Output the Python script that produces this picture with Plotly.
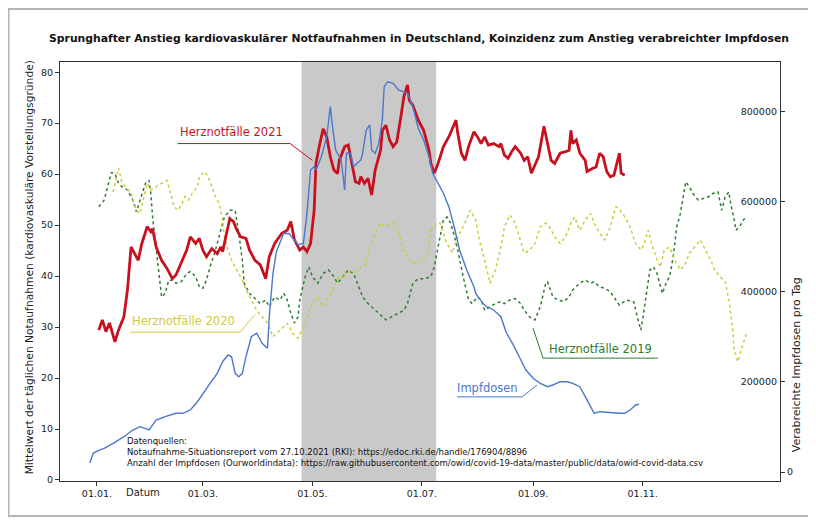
import pandas as pd
import plotly.graph_objects as go

# day offsets from 01.01.2021 and values
herz_2021 = [(1, 29.4), (3, 31.4), (5, 29.1), (7, 30.8), (10, 27.1), (12, 29.4), (15, 32.0), (17, 37.3),
             (19, 45.7), (21, 44.5), (23, 43.1), (25, 46.4), (28, 49.7), (30, 48.7), (31, 49.3), (33, 45.7),
             (36, 43.1), (39, 41.5), (42, 39.5), (44, 40.2), (47, 42.5), (50, 45.1), (52, 47.7), (55, 46.4),
             (57, 47.4), (59, 45.1), (61, 43.8), (64, 45.4), (67, 44.4), (69, 45.7), (70, 44.8), (72, 48.4),
             (74, 51.3), (76, 50.7), (78, 49.0), (80, 47.7), (83, 47.4), (85, 45.1), (88, 43.1), (91, 42.2),
             (94, 39.5), (96, 43.8), (99, 46.4), (103, 48.4), (106, 49.0), (108, 50.7), (110, 47.1), (113, 45.1),
             (115, 45.7), (117, 44.8), (119, 46.4), (121, 52.9), (122, 62.1), (124, 65.7), (126, 68.9), (128, 67.3),
             (130, 63.4), (132, 60.8), (134, 60.1), (135, 62.7), (138, 65.4), (140, 65.7), (142, 62.1), (144, 58.5),
             (146, 58.2), (147, 59.5), (149, 58.2), (151, 59.2), (153, 55.9), (155, 60.8), (158, 64.7), (159, 68.6),
             (161, 69.6), (163, 66.7), (165, 65.4), (167, 66.3), (169, 70.6), (171, 75.2), (173, 77.5), (174, 74.5),
             (176, 73.5), (179, 70.6), (182, 68.6), (185, 64.7), (186, 62.1), (188, 60.2), (190, 62.1), (193, 65.4),
             (196, 67.3), (199, 70.0), (200, 70.6), (201, 68.0), (203, 64.1), (205, 62.7), (207, 65.4), (210, 68.3),
             (212, 67.3), (214, 66.0), (216, 67.3), (218, 65.7), (221, 66.0), (224, 65.4), (225, 66.0), (227, 63.7),
             (229, 63.1), (231, 64.4), (233, 65.4), (236, 64.1), (238, 62.7), (240, 63.4), (242, 60.2), (244, 61.8),
             (246, 63.4), (249, 69.4), (251, 66.0), (253, 62.7), (255, 62.1), (258, 64.1), (261, 64.4), (263, 64.7),
             (264, 68.6), (265, 66.0), (267, 66.7), (269, 64.1), (272, 62.7), (273, 60.5), (276, 61.1), (278, 61.4),
             (280, 64.1), (282, 63.4), (284, 60.5), (286, 59.5), (288, 59.8), (290, 62.7), (291, 64.1), (292, 60.2),
             (294, 59.8)]

herz_2020 = [(9, 56.5), (12, 61.2), (14, 58.2), (16, 57.5), (19, 56.2), (22, 52.9), (24, 52.3), (26, 55.6),
             (28, 58.2), (30, 56.9), (33, 57.5), (36, 58.2), (39, 58.8), (41, 56.2), (43, 53.6), (45, 52.9),
             (47, 53.9), (49, 55.6), (51, 54.9), (53, 56.2), (56, 57.5), (57, 59.5), (60, 60.5), (62, 59.5),
             (64, 57.5), (66, 55.6), (68, 54.3), (70, 51.0), (71, 47.7), (73, 45.1), (75, 43.1), (78, 41.2),
             (81, 39.2), (83, 37.3), (86, 35.3), (89, 33.3), (92, 32.0), (95, 30.8), (98, 28.1), (102, 29.4),
             (106, 30.7), (109, 28.8), (112, 27.8), (116, 30.7), (120, 34.6), (123, 35.9), (126, 34.0), (129, 35.9),
             (133, 38.6), (135, 39.9), (138, 39.9), (141, 41.2), (144, 40.5), (147, 41.8), (149, 41.8), (152, 45.7),
             (155, 48.4), (158, 50.4), (160, 49.7), (163, 50.0), (166, 50.4), (168, 49.0), (170, 45.7), (173, 43.8),
             (175, 42.5), (178, 42.5), (181, 43.1), (184, 43.8), (186, 49.0), (188, 49.7), (191, 50.4), (195, 46.4),
             (198, 44.5), (201, 47.7), (205, 50.4), (208, 52.9), (211, 51.0), (213, 47.1), (216, 43.1), (219, 38.6),
             (222, 41.2), (225, 45.7), (227, 49.7), (230, 52.0), (233, 50.4), (236, 47.1), (238, 44.5), (241, 45.1),
             (244, 46.4), (247, 49.7), (250, 50.4), (252, 49.7), (255, 47.7), (258, 46.4), (261, 47.7), (264, 50.4),
             (266, 51.6), (269, 49.0), (272, 51.0), (275, 52.3), (277, 50.4), (280, 48.4), (283, 47.1), (286, 49.7),
             (289, 53.6), (291, 53.2), (294, 51.6), (297, 49.7), (300, 46.4), (303, 45.1), (305, 46.4), (307, 49.0),
             (309, 46.4), (312, 43.1), (314, 41.8), (316, 45.1), (319, 45.7), (322, 43.1), (325, 41.2), (328, 42.5),
             (330, 44.5), (333, 45.7), (336, 47.1), (339, 45.1), (342, 43.1), (344, 41.2), (347, 39.9), (350, 38.9),
             (352, 35.3), (354, 30.1), (355, 25.5), (357, 23.2), (359, 25.5), (361, 28.1), (362, 29.1)]

herz_2019 = [(1, 53.6), (4, 54.9), (8, 60.3), (10, 60.1), (12, 58.2), (14, 57.5), (17, 56.9), (20, 54.9),
             (22, 52.6), (24, 54.9), (27, 58.2), (29, 58.8), (30, 56.2), (31, 51.6), (33, 45.1), (35, 38.6),
             (36, 35.9), (38, 36.6), (40, 39.2), (42, 39.2), (44, 38.6), (47, 38.9), (50, 40.5), (52, 40.9),
             (55, 39.9), (57, 37.9), (59, 37.6), (61, 39.2), (63, 41.8), (66, 45.1), (69, 49.0), (71, 51.6),
             (74, 52.9), (77, 52.9), (79, 48.4), (81, 43.1), (82, 38.6), (85, 36.6), (88, 35.6), (91, 34.6),
             (94, 35.3), (96, 34.0), (99, 35.9), (102, 35.3), (104, 36.6), (106, 35.3), (108, 32.7), (110, 30.8),
             (112, 32.0), (113, 35.3), (116, 39.9), (118, 41.8), (120, 39.9), (123, 38.6), (126, 40.5), (129, 41.2),
             (132, 39.9), (134, 38.6), (137, 39.9), (140, 41.2), (143, 40.5), (146, 37.9), (148, 35.9), (151, 34.6),
             (155, 33.3), (159, 32.0), (161, 31.4), (164, 32.0), (168, 32.7), (171, 33.3), (173, 34.6), (176, 38.6),
             (179, 39.5), (183, 39.5), (186, 39.9), (188, 41.8), (190, 45.7), (193, 51.0), (195, 51.6), (197, 50.4),
             (199, 48.0), (201, 45.1), (204, 39.9), (207, 35.3), (209, 34.6), (212, 35.9), (214, 35.3), (216, 33.3),
             (219, 34.0), (222, 34.6), (225, 35.0), (227, 34.6), (230, 35.3), (233, 35.6), (236, 34.6), (238, 33.3),
             (241, 32.0), (244, 31.4), (247, 34.0), (250, 38.6), (251, 38.9), (254, 35.9), (257, 35.3), (260, 35.0),
             (263, 35.9), (265, 37.3), (269, 38.6), (272, 39.2), (275, 38.6), (277, 38.9), (280, 37.9), (283, 37.6),
             (286, 36.9), (289, 35.3), (291, 34.3), (295, 35.3), (299, 35.0), (301, 32.0), (303, 29.4), (304, 31.4),
             (306, 36.6), (308, 41.2), (310, 41.8), (312, 40.5), (314, 37.9), (315, 36.6), (317, 38.6), (319, 39.9),
             (321, 43.8), (323, 49.7), (325, 52.3), (327, 56.2), (328, 58.5), (330, 57.5), (332, 56.2), (335, 54.9),
             (338, 55.2), (341, 55.6), (343, 56.2), (346, 56.5), (348, 52.9), (350, 55.6), (352, 56.5), (353, 54.3),
             (355, 51.0), (356, 49.0), (358, 49.7), (360, 51.0), (362, 51.6)]

impfdosen = [(-4, 20000), (-2, 42000), (1, 48000), (4, 52600), (9, 63700), (15, 78400), (20, 93300),
             (24, 100700), (29, 93300), (33, 115500), (38, 122900), (44, 130400), (48, 130400), (52, 137800),
             (56, 156200), (59, 174900), (63, 197100), (67, 219300), (70, 245100), (73, 260000), (75, 256000),
             (77, 219300), (79, 211800), (81, 219300), (83, 256200), (86, 300600), (89, 308200), (92, 286000),
             (95, 274900), (96, 345100), (98, 440000), (100, 490000), (104, 530000), (107, 530000), (109, 519000),
             (112, 505000), (115, 508000), (117, 574800), (119, 671000), (121, 678400), (122, 671000),
             (125, 700600), (128, 745000), (130, 811700), (131, 774800), (133, 715500), (134, 708100),
             (136, 693300), (138, 626600), (139, 708100), (141, 708100), (143, 678400), (145, 685900),
             (147, 693300), (148, 708100), (150, 760000), (152, 771000), (153, 715500), (155, 708100),
             (157, 730400), (159, 782100), (160, 856100), (162, 867200), (165, 863700), (168, 848800),
             (171, 845000), (173, 841500), (176, 811700), (179, 763700), (182, 737700), (185, 700600),
             (187, 663700), (190, 641500), (193, 619300), (196, 589500), (199, 545000), (202, 493300),
             (206, 448800), (210, 411700), (211, 397000), (215, 374800), (217, 367300), (221, 360000),
             (225, 345100), (228, 310000), (232, 282000), (236, 250000), (239, 226600), (243, 208200),
             (247, 197100), (251, 189500), (254, 193300), (258, 200600), (262, 200600), (265, 197100),
             (269, 189500), (272, 167300), (275, 145100), (277, 130400), (280, 134000), (284, 132600),
             (288, 130400), (291, 130400), (294, 130400), (297, 137800), (300, 148900), (302, 150400)]

month_ticks = ["2021-01-01", "2021-03-01", "2021-05-01", "2021-07-01", "2021-09-01", "2021-11-01", "2022-01-01"]
left_ticks = [0, 10, 20, 30, 40, 50, 60, 70, 80]
right_ticks_inner = [200000, 400000, 600000, 800000]
right_ticks_outer = [0]

START = pd.Timestamp("2021-01-01")


def to_dates(days):
    return START + pd.to_timedelta(list(days), unit="D")


def split(pairs):
    d, v = zip(*pairs)
    return to_dates(d), list(v)


RED = "#c8101e"
YELLOW = "#cccc3c"
GREEN = "#2f7d2f"
BLUE = "#4a78cc"
FONT = "DejaVu Sans"
Y2_RANGE = [-20000, 911000]

fig = go.Figure()

x, y = split(herz_2019)
fig.add_trace(go.Scatter(x=x, y=y, mode="lines", line=dict(color=GREEN, width=1.5, dash="dot")))
x, y = split(herz_2020)
fig.add_trace(go.Scatter(x=x, y=y, mode="lines", line=dict(color=YELLOW, width=1.5, dash="dot")))
x, y = split(impfdosen)
fig.add_trace(go.Scatter(x=x, y=y, mode="lines", yaxis="y2", line=dict(color=BLUE, width=1.4)))
x, y = split(herz_2021)
fig.add_trace(go.Scatter(x=x, y=y, mode="lines", line=dict(color=RED, width=2.8)))
# empty trace so the extra right axis (for the "0" label) gets drawn
fig.add_trace(go.Scatter(x=[], y=[], yaxis="y3", hoverinfo="skip"))

# shaded period
shapes = [dict(type="rect", xref="x", yref="paper", x0="2021-04-25", x1="2021-07-09", y0=0, y1=1,
               fillcolor="#c9c9c9", line=dict(width=0), layer="below"),
          # outer frame of the picture
          dict(type="rect", xref="paper", yref="paper", x0=-0.0715, x1=1.044, y0=-0.0835, y1=1.1265,
               line=dict(color="#b4b4b4", width=2))]

# series labels with underline + leader line (day, value on left axis)
labels = [
    ("Herznotfälle 2021", RED, (45, 68.2), [(45, 66.0), (107.6, 66.0), (120, 62.7)]),
    ("Herznotfälle 2020", YELLOW, (18.4, 31.2), [(18.4, 29.0), (79.7, 29.0), (88, 32.4)]),
    ("Herznotfälle 2019", GREEN, (250.7, 25.7), [(242.9, 29.8), (248.5, 23.9), (312.5, 23.9)]),
    ("Impfdosen", BLUE, (199.4, 18.0), [(200.6, 16.3), (236.8, 16.3), (245.1, 18.6)]),
]
annotations = []
for text, col, (tx, ty), pts in labels:
    annotations.append(dict(x=to_dates([tx])[0], y=ty, xref="x", yref="y", text=text, showarrow=False,
                            xanchor="left", yanchor="middle", font=dict(family=FONT, size=11.5, color=col)))
    for (x0, y0), (x1, y1) in zip(pts[:-1], pts[1:]):
        shapes.append(dict(type="line", xref="x", yref="y", x0=to_dates([x0])[0], x1=to_dates([x1])[0],
                           y0=y0, y1=y1, line=dict(color=col, width=1)))

annotations += [
    dict(x=-0.043, y=0.51, xref="paper", yref="paper", textangle=-90, showarrow=False,
         xanchor="center", yanchor="middle",
         text="Mittelwert der täglichen Notaufnahmen (kardiovaskuläre Vorstellungsgründe)",
         font=dict(family=FONT, size=10.7, color="#222")),
    dict(x=1.024, y=0.277, xref="paper", yref="paper", textangle=-90, showarrow=False,
         xanchor="center", yanchor="middle",
         text="Verabreichte Impfdosen pro Tag", font=dict(family=FONT, size=11, color="#222")),
    dict(x=0.115, y=-0.0286, xref="paper", yref="paper", showarrow=False, xanchor="center", yanchor="middle",
         text="Datum", font=dict(family=FONT, size=10, color="#222")),
    dict(x=0.09, y=0.069, xref="paper", yref="paper", showarrow=False, xanchor="left", yanchor="middle",
         align="left", font=dict(family=FONT, size=8.5, color="#111"),
         text="Datenquellen:<br>"
              "Notaufnahme-Situationsreport vom 27.10.2021 (RKI): https://edoc.rki.de/handle/176904/8896<br>"
              "Anzahl der Impfdosen (Ourworldindata): "
              "https://raw.githubusercontent.com/owid/covid-19-data/master/public/data/owid-covid-data.csv"),
]

axis_style = dict(showgrid=False, zeroline=False, ticks="outside", ticklen=4, tickcolor="#333",
                  tickfont=dict(family=FONT, size=9.5, color="#222"))

# the page has an 8px body margin, so the figure is 8px smaller than the window on each side
fig.update_layout(
    width=808, height=514,
    margin=dict(l=52, r=36, t=54, b=41),
    paper_bgcolor="white", plot_bgcolor="white",
    showlegend=False,
    font=dict(family=FONT, size=9.5, color="#222"),
    title=dict(text="<b>Sprunghafter Anstieg kardiovaskulärer Notfaufnahmen in Deutschland, "
                    "Koinzidenz zum Anstieg verabreichter Impfdosen</b>",
               x=0.5087, xanchor="center", y=0.9416, yanchor="middle",
               font=dict(family=FONT, size=10.8, color="#111")),
    xaxis=dict(range=["2020-12-11 10:00", "2022-01-16 12:00"], tickvals=month_ticks, tickformat="%d.%m.",
               showline=True, mirror=True, linecolor="#333", linewidth=1, **axis_style),
    yaxis=dict(range=[-0.2, 82], tickvals=left_ticks, showline=True, mirror=True, linecolor="#333",
               linewidth=1, **axis_style),
    yaxis2=dict(overlaying="y", side="right", range=Y2_RANGE, tickvals=right_ticks_inner,
                ticktext=[str(v) for v in right_ticks_inner], ticklabelposition="inside", **axis_style),
    yaxis3=dict(overlaying="y", side="right", range=Y2_RANGE, tickvals=right_ticks_outer,
                ticktext=[str(v) for v in right_ticks_outer], **axis_style),
    shapes=shapes,
    annotations=annotations,
)

fig.write_html("out.html")
